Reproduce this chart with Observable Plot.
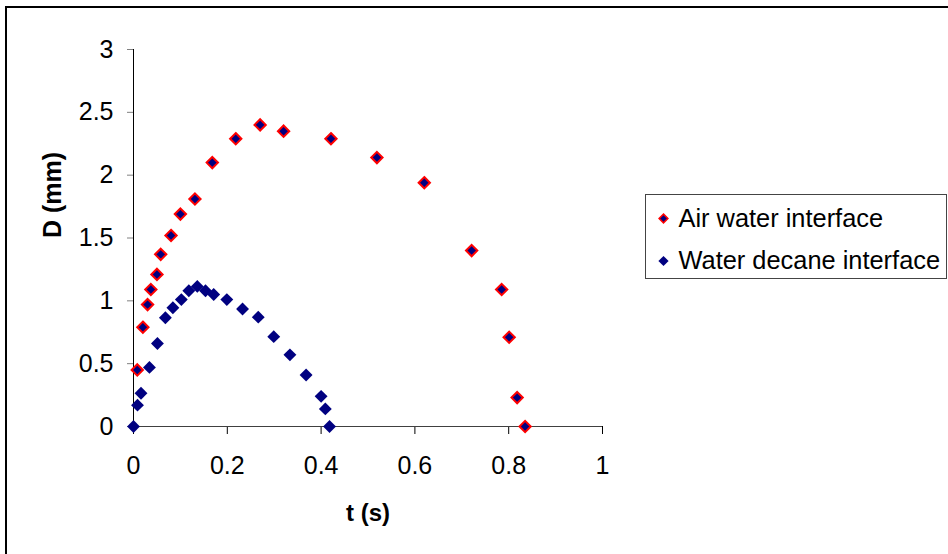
<!DOCTYPE html>
<html>
<head>
<meta charset="utf-8">
<script src="https://cdn.jsdelivr.net/npm/d3@7"></script>
<script src="https://cdn.jsdelivr.net/npm/@observablehq/plot@0.6"></script>
<style>
  body { margin: 0; background: #fff; }
  #chart { position: relative; width: 948px; height: 554px; overflow: hidden; background: #fff; }
  #frame { position: absolute; left: 5px; top: 6px; width: 980px; height: 580px;
           border-left: 2px solid #000; border-top: 2px solid #000; pointer-events: none; }
</style>
</head>
<body>
<div id="chart"><div id="frame"></div></div>
<script>
// Series names
const seriesNames = ["Air water interface", "Water decane interface"];

// Air water interface: time (s) and diameter (mm)
const airT = [0.008, 0.020, 0.030, 0.037, 0.050, 0.058, 0.080, 0.100, 0.131, 0.168, 0.218,
              0.270, 0.320, 0.421, 0.519, 0.620, 0.721, 0.785, 0.801, 0.818, 0.835];
const airD = [0.45, 0.79, 0.97, 1.09, 1.21, 1.37, 1.52, 1.69, 1.81, 2.10, 2.29,
              2.40, 2.35, 2.29, 2.14, 1.94, 1.40, 1.09, 0.71, 0.23, 0];

// Water decane interface: time (s) and diameter (mm)
const decT = [0, 0.0085, 0.016, 0.034, 0.051, 0.068, 0.084, 0.102, 0.118, 0.136, 0.1535,
              0.171, 0.199, 0.2325, 0.266, 0.299, 0.3335, 0.368, 0.400, 0.409, 0.418];
const decD = [0, 0.17, 0.265, 0.47, 0.66, 0.865, 0.945, 1.01, 1.08, 1.115, 1.08,
              1.05, 1.01, 0.935, 0.87, 0.715, 0.57, 0.41, 0.24, 0.14, 0];

// Axis ticks and titles
const xTicks = [0, 0.2, 0.4, 0.6, 0.8, 1];
const yTicks = [0, 0.5, 1, 1.5, 2, 2.5, 3];
const xTitle = "t (s)";
const yTitle = "D (mm)";

const air = airT.map((t, i) => ({t, d: airD[i], series: seriesNames[0]}));
const dec = decT.map((t, i) => ({t, d: decD[i], series: seriesNames[1]}));

const NAVY = "#000080";
const RED = "#ff0000";
const tickFmt = d => String(d);

const plot = Plot.plot({
  width: 948,
  height: 554,
  marginLeft: 133,
  marginRight: 346,
  marginTop: 49,
  marginBottom: 128,
  style: {
    fontFamily: "'Liberation Sans', Arial, sans-serif",
    fontSize: "25px",
    background: "transparent",
    color: "#000"
  },
  x: {domain: [0, 1]},
  y: {domain: [0, 3]},
  marks: [
    Plot.axisY(yTicks, {tickSize: 6, tickPadding: 14, stroke: "#808080", label: null, tickFormat: tickFmt}),
    Plot.axisX(xTicks, {tickSize: 8, tickPadding: 21.5, stroke: "#000", label: null, tickFormat: tickFmt}),
    Plot.ruleX([0], {stroke: "#000"}),
    Plot.ruleY([0], {stroke: "#404040"}),
    Plot.dot(air, {x: "t", y: "d", symbol: "diamond2", r: 5.1, fill: NAVY, stroke: RED, strokeWidth: 2}),
    Plot.dot(dec, {x: "t", y: "d", symbol: "diamond2", r: 5.8, fill: NAVY}),
    Plot.text([yTitle], {text: d => d, frameAnchor: "left", dx: -81, rotate: -90,
                         fontWeight: "bold", fontSize: 25}),
    Plot.text([xTitle], {text: d => d, frameAnchor: "bottom", dy: 87, lineAnchor: "middle",
                         fontWeight: "bold", fontSize: 24})
  ]
});

// Legend box to the right of the plot
const svg = d3.select(plot);
const legend = svg.append("g").attr("text-anchor", "start");
legend.append("rect")
  .attr("x", 645.5).attr("y", 194.5).attr("width", 301).attr("height", 84)
  .attr("fill", "#fff").attr("stroke", "#444").attr("stroke-width", 1);

const legendItems = [
  {name: seriesNames[0], fill: NAVY, stroke: RED, r: 3.9, sw: 1.6},
  {name: seriesNames[1], fill: NAVY, stroke: "none", r: 4.6, sw: 0}
];
legendItems.forEach((item, i) => {
  const cy = 218.5 + i * 42.5;
  legend.append("path")
    .attr("d", d3.symbol(d3.symbolDiamond2, Math.PI * item.r * item.r)())
    .attr("transform", `translate(663.5,${cy})`)
    .attr("fill", item.fill)
    .attr("stroke", item.stroke)
    .attr("stroke-width", item.sw);
  legend.append("text")
    .attr("x", 678.5).attr("y", cy)
    .attr("dy", "0.32em")
    .attr("text-anchor", "start")
    .attr("font-size", 25.4)
    .attr("fill", "#000")
    .text(item.name);
});

document.getElementById("chart").prepend(plot);
</script>
</body>
</html>
